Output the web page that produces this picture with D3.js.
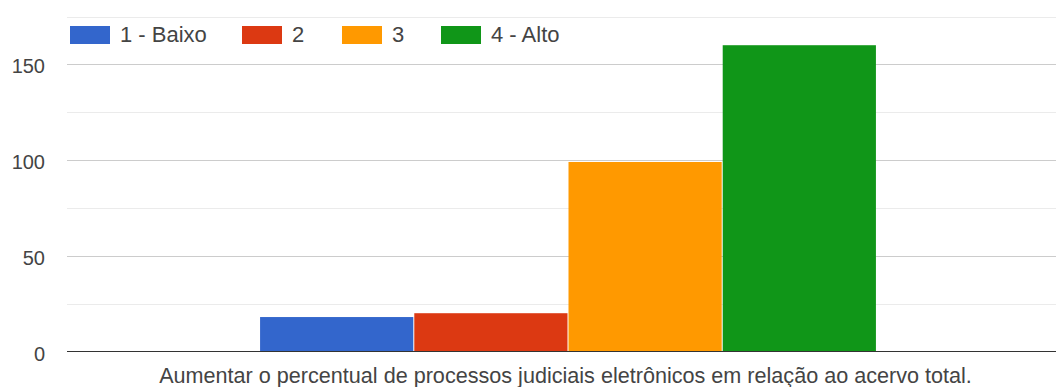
<!doctype html>
<html lang="pt">
<head>
<meta charset="utf-8">
<title>Processos judiciais eletrônicos</title>
<script src="https://d3js.org/d3.v7.min.js"></script>
<style>
  body { margin: 0; background: #fff; }
  svg text { font-family: "Liberation Sans", Arial, sans-serif; fill: #444; }
</style>
</head>
<body>
<svg width="1062" height="387"></svg>
<script>
// data
var categories = ["Aumentar o percentual de processos judiciais eletrônicos em relação ao acervo total."];
var series = ["1 - Baixo", "2", "3", "4 - Alto"];
var values = [18, 20, 99, 160];
var colors = ["#3366cc", "#dc3912", "#ff9900", "#109618"];
var yTicks = [0, 50, 100, 150];
var yMinor = [25, 75, 125, 175];

var svg = d3.select("svg");
var plotLeft = 67, plotRight = 1056, plotTop = 15, plotBottom = 351.5;

var y = d3.scaleLinear().domain([0, 175]).range([plotBottom, plotTop + 1.5]);
var x0 = d3.scaleBand().domain(categories).range([plotLeft, 1070]).paddingInner(0).paddingOuter(0.313);
var x1 = d3.scaleBand().domain(series).range([0, x0.bandwidth()]);

// minor gridlines
svg.append("g").selectAll("line").data(yMinor).enter().append("line")
    .attr("x1", plotLeft).attr("x2", plotRight)
    .attr("y1", function(d) { return Math.round(y(d)) + 0.5; })
    .attr("y2", function(d) { return Math.round(y(d)) + 0.5; })
    .attr("stroke", "#ebebeb");

// major gridlines
svg.append("g").selectAll("line").data(yTicks.slice(1)).enter().append("line")
    .attr("x1", plotLeft).attr("x2", plotRight)
    .attr("y1", function(d) { return Math.round(y(d)) + 0.5; })
    .attr("y2", function(d) { return Math.round(y(d)) + 0.5; })
    .attr("stroke", "#cccccc");

// y tick labels
svg.append("g").selectAll("text").data(yTicks).enter().append("text")
    .attr("x", 45)
    .attr("y", function(d) { return y(d) + 9; })
    .attr("text-anchor", "end")
    .style("font-size", "20px")
    .text(function(d) { return d; });

// bars
var g = svg.append("g").selectAll("g").data(categories).enter().append("g")
    .attr("transform", function(d) { return "translate(" + x0(d) + ",0)"; });

g.selectAll("rect").data(series).enter().append("rect")
    .attr("x", function(d) { return x1(d); })
    .attr("width", x1.bandwidth() - 1)
    .attr("y", function(d, i) { return y(values[i]); })
    .attr("height", function(d, i) { return plotBottom - y(values[i]); })
    .attr("fill", function(d, i) { return colors[i]; });

// baseline
svg.append("line")
    .attr("x1", plotLeft).attr("x2", plotRight)
    .attr("y1", plotBottom).attr("y2", plotBottom)
    .attr("stroke", "#333").attr("stroke-width", 1.2);

// category label
svg.append("text")
    .attr("x", x0(categories[0]) + x0.bandwidth() / 2 - 3)
    .attr("y", 383)
    .attr("text-anchor", "middle")
    .style("font-size", "21.6px")
    .text(categories[0]);

// legend
var legendX = [70, 242, 342, 441];
var legend = svg.append("g").selectAll("g").data(series).enter().append("g")
    .attr("transform", function(d, i) { return "translate(" + legendX[i] + ",26)"; });
legend.append("rect")
    .attr("width", 40).attr("height", 18)
    .attr("fill", function(d, i) { return colors[i]; });
legend.append("text")
    .attr("x", 50).attr("y", 16)
    .style("font-size", "22px")
    .text(function(d) { return d; });
</script>
</body>
</html>
